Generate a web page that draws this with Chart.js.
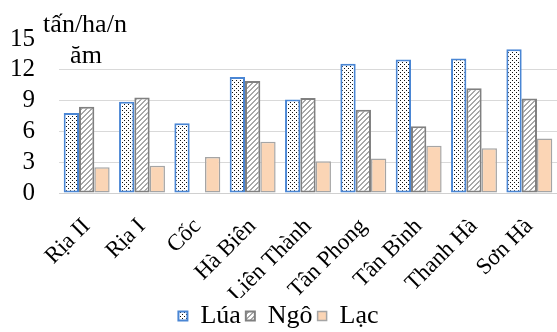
<!DOCTYPE html>
<html>
<head>
<meta charset="utf-8">
<script src="https://cdn.jsdelivr.net/npm/chart.js@4"></script>
<style>
html,body{margin:0;padding:0;background:#fff;}
#wrap{width:557px;height:332px;position:relative;}
</style>
</head>
<body>
<div id="wrap"><canvas id="c"></canvas></div>
<script>
const categories = ['Rịa II','Rịa I','Cốc','Hà Biên','Liên Thành','Tân Phong','Tân Bình','Thanh Hà','Sơn Hà'];
const seriesNames = ['Lúa','Ngô','Lạc'];
const lua = [7.8, 8.9, 6.8, 11.3, 9.1, 12.6, 13.0, 13.1, 14.0];
const ngo = [8.4, 9.3, null, 10.9, 9.25, 8.1, 6.5, 10.2, 9.2];
const lac = [2.5, 2.65, 3.5, 5.0, 3.1, 3.35, 4.6, 4.35, 5.3];
const yTicks = [0, 3, 6, 9, 12, 15];
const unitLines = ['tấn/ha/n', 'ăm'];

const FONT = "'Liberation Serif', serif";

function dotPattern(){
  const c = document.createElement('canvas'); c.width = 4; c.height = 4;
  const x = c.getContext('2d');
  x.fillStyle = '#fff'; x.fillRect(0,0,4,4);
  x.fillStyle = '#111';
  x.fillRect(0,0,1,1); x.fillRect(2,2,1,1);
  return x.createPattern(c, 'repeat');
}
function hatchPattern(){
  const s = 5;
  const c = document.createElement('canvas'); c.width = s; c.height = s;
  const x = c.getContext('2d');
  x.fillStyle = '#fff'; x.fillRect(0,0,s,s);
  x.fillStyle = '#a8a8a8';
  for (let i = 0; i < s; i++){
    x.fillRect(i, s-1-i, 1, 1);
    x.fillRect(i, (s-i)%s, 1, 1);
  }
  return x.createPattern(c, 'repeat');
}

const unitTitle = {
  id: 'unitTitle',
  afterDraw(chart){
    const ctx = chart.ctx;
    ctx.save();
    ctx.fillStyle = '#000';
    ctx.font = "26px " + FONT;
    ctx.textAlign = 'center';
    ctx.textBaseline = 'alphabetic';
    ctx.fillText(unitLines[0], 85, 32);
    ctx.fillText(unitLines[1], 86, 63);
    ctx.restore();
  }
};

function build(){
  Chart.defaults.font.family = FONT;
  new Chart(document.getElementById('c'), {
    type: 'bar',
    data: {
      labels: categories,
      datasets: [
        { label: seriesNames[0], data: lua, backgroundColor: dotPattern(), borderColor: '#4a86d4', borderWidth: 2, borderSkipped: false },
        { label: seriesNames[1], data: ngo, backgroundColor: hatchPattern(), borderColor: '#808080', borderWidth: 2, borderSkipped: false },
        { label: seriesNames[2], data: lac, backgroundColor: '#fbd5b5', borderColor: '#a5a5a5', borderWidth: 1.5, borderSkipped: false }
      ]
    },
    options: {
      responsive: true,
      maintainAspectRatio: false,
      animation: false,
      layout: { padding: { top: 36, right: 0, left: 0, bottom: -7 } },
      datasets: { bar: { categoryPercentage: 0.83, barPercentage: 1.0 } },
      plugins: {
        title: { display: false },
        tooltip: { enabled: false },
        legend: {
          display: true,
          position: 'bottom',
          labels: {
            boxWidth: 9, boxHeight: 9, padding: 5,
            color: '#000',
            font: { family: FONT, size: 26 }
          }
        }
      },
      scales: {
        x: {
          grid: { display: false, drawTicks: false },
          border: { display: true, color: '#d0d0d0', width: 1 },
          afterFit(scale){ scale.height = 105; scale.paddingRight = -2; },
          ticks: {
            color: '#000', maxRotation: 45, minRotation: 45, autoSkip: false,
            padding: 20,
            font: { family: FONT, size: 23 }
          }
        },
        y: {
          min: 0, max: 15,
          afterBuildTicks(scale){ scale.ticks = yTicks.map(v => ({ value: v })); },
          afterFit(scale){ scale.width = 59; },
          grid: {
            drawTicks: false,
            color: ctx => (ctx.tick && ctx.tick.value === 15) ? 'rgba(0,0,0,0)' : '#d9d9d9',
            lineWidth: 1
          },
          border: { display: false },
          ticks: {
            color: '#000', padding: 24, autoSkip: false,
            font: { family: FONT, size: 25 }
          }
        }
      }
    },
    plugins: [unitTitle]
  });
}

Promise.all([
  document.fonts.load("22px 'Liberation Serif'", 'tấn/ha/năm Rịa Lúa Ngô Lạc 0123')
]).then(build, build);
</script>
</body>
</html>
